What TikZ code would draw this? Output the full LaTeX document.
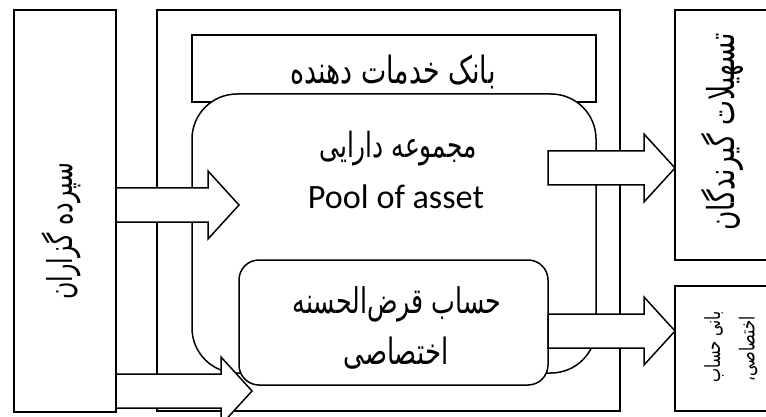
\documentclass[tikz,border=0pt]{standalone}
\usepackage{fontspec}
\setmainfont{Carlito}
\newfontfamily\fa[Script=Arabic]{DejaVu Sans}
\TeXXeTstate=1
\usetikzlibrary{calc}
% #1 width, #2 vertical stretch, #3 text (already wrapped in \beginR ... \endR)
\newcommand\fabox[3]{\scalebox{1}[#2]{\resizebox{#1}{!}{\fa #3}}}
\tikzset{
  box/.style={draw, line width=1.5pt, fill=white, inner sep=0pt, outer sep=0pt},
  arrowbody/.style={draw, line width=1.5pt, fill=white, line join=miter},
  lbl/.style={inner sep=0pt, outer sep=0pt}
}
% #1 start coordinate, #2 tip coordinate
\newcommand\blockarrow[2]{%
  \path[arrowbody] let \p1=(#1), \p2=(#2) in
    (\x1,\y2+17pt) -- (\x2-31pt,\y2+17pt) -- (\x2-31pt,\y2+34pt) -- (\x2,\y2)
    -- (\x2-31pt,\y2-34pt) -- (\x2-31pt,\y2-17pt) -- (\x1,\y2-17pt) -- cycle;}
\begin{document}
\begin{tikzpicture}[x=1pt,y=-1pt]
\useasboundingbox (0,0) rectangle (766,417);
\clip (0,0) rectangle (766,417);
% boxes
\node[box, minimum width=463pt, minimum height=401pt] (bank) at (388.5,210.5) {};
\node[box, minimum width=404pt, minimum height=67pt] (serv) at (394,68.5) {};
\node[box, rounded corners=45pt, minimum width=404pt, minimum height=279pt] (pool) at (394,233.5) {};
\node[box, rounded corners=20pt, minimum width=309pt, minimum height=125pt] (loan) at (393.5,322.5) {};
\node[box, minimum width=102pt, minimum height=402pt] (dep) at (65,211) {};
\node[box, minimum width=100pt, minimum height=250pt] (recv) at (725,135) {};
\node[box, minimum width=100pt, minimum height=125pt] (spon) at (725,348.5) {};
% arrow end points
\coordinate (t1) at (239,205);
\coordinate (s1) at (dep.east |- t1);
\coordinate (t2) at (252,391);
\coordinate (s2) at (dep.east |- t2);
\coordinate (s3) at (548,168);
\coordinate (t3) at (recv.west |- s3);
\coordinate (s4) at (loan.east |- 0,331);
\coordinate (t4) at (spon.west |- s4);
\blockarrow{s1}{t1}
\blockarrow{s2}{t2}
\blockarrow{s3}{t3}
\blockarrow{s4}{t4}
% texts
\node[lbl] (servt) at (393,72) {\fabox{205pt}{1.4}{\beginR بانک خدمات دهنده\endR}};
\node[lbl] (poolt1) at (398,149) {\fabox{157pt}{1.4}{\beginR مجموعه دارایی\endR}};
\node[lbl, anchor=base] (poolt2) at (396,208) {\resizebox{176pt}{!}{Pool of asset}};
\node[lbl] (loant1) at (397,304) {\fabox{209pt}{1.4}{\beginR حساب قرض‌الحسنه\endR}};
\node[lbl] (loant2) at (396,353) {\fabox{105pt}{1.4}{\beginR اختصاصی\endR}};
\node[lbl, rotate=90] (dept) at (61,231) {\fabox{137pt}{1.45}{\beginR سپرده گزاران\endR}};
\node[lbl, rotate=90] (recvt) at (722,132) {\fabox{197pt}{1.4}{\beginR تسهیلات گیرندگان\endR}};
\node[lbl, rotate=90] (spont1) at (714,347) {\fabox{71pt}{1.4}{\beginR بانی حساب\endR}};
\node[lbl, rotate=90] (spont2) at (748,349) {\fabox{65pt}{1.4}{\beginR اختصاصی،\endR}};
\end{tikzpicture}
\end{document}
